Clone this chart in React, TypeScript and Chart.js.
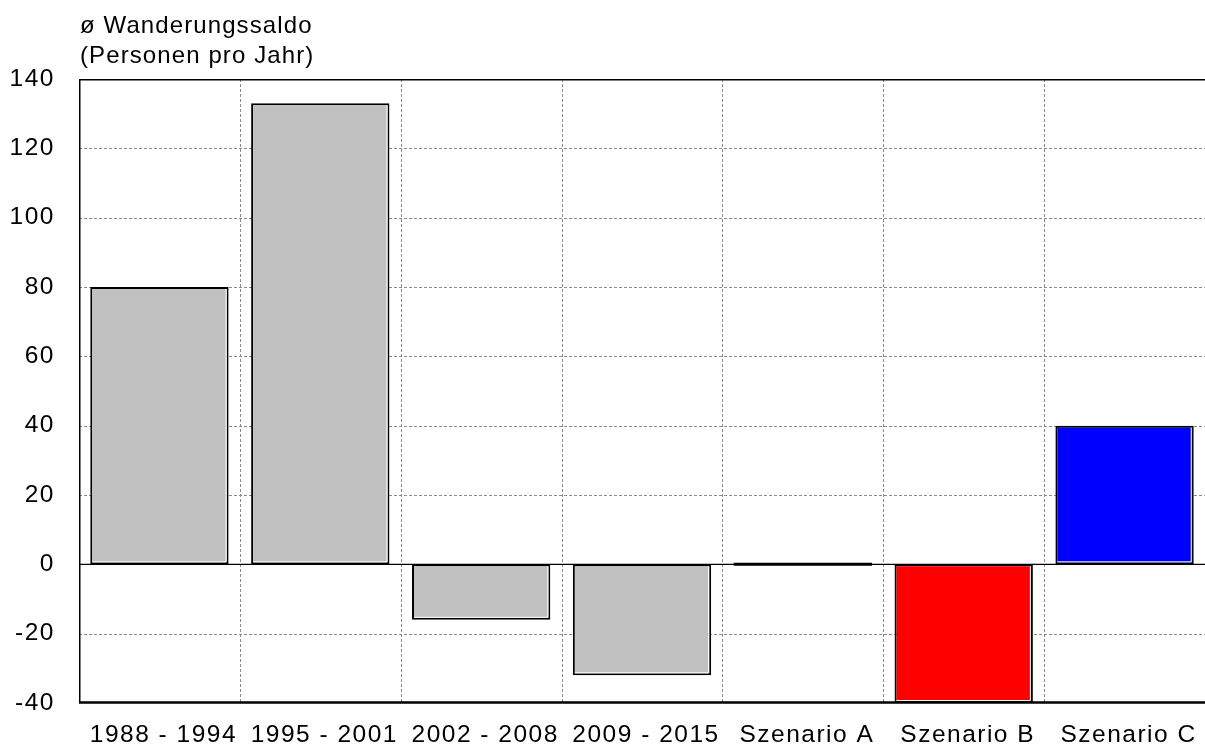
import React, { useEffect, useRef } from "react";
import { Chart, registerables } from "chart.js";

Chart.register(...registerables);

const categories = [
  "1988 - 1994",
  "1995 - 2001",
  "2002 - 2008",
  "2009 - 2015",
  "Szenario A",
  "Szenario B",
  "Szenario C",
];
const values = [80, 133, -16, -32, 0, -40, 40];
const barColors = ["#c0c0c0", "#c0c0c0", "#c0c0c0", "#c0c0c0", "#c0c0c0", "#ff0000", "#0000ff"];
const titleLines = ["ø Wanderungssaldo", "(Personen pro Jahr)"];
const yMin = -40;
const yMax = 140;
const yStep = 20;

const FONT_FAMILY = "'Liberation Sans', Arial, Helvetica, sans-serif";
const FONT_SIZE = 24.5;
const LETTER_SPACING = "1.5px";

const framePlugin = {
  id: "frame",
  beforeDraw(chart: any) {
    chart.ctx.letterSpacing = LETTER_SPACING;
  },
  beforeDatasetsDraw(chart: any) {
    const { ctx, chartArea, scales } = chart;
    const { left, right, top, bottom } = chartArea;
    const x = scales.x;
    const y = scales.y;
    ctx.save();
    ctx.strokeStyle = "#8a8a8a";
    ctx.lineWidth = 1;
    ctx.setLineDash([3, 2]);
    for (let v = yMin + yStep; v < yMax; v += yStep) {
      if (v === 0) continue;
      const py = Math.round(y.getPixelForValue(v)) + 0.5;
      ctx.beginPath();
      ctx.moveTo(left, py);
      ctx.lineTo(right, py);
      ctx.stroke();
    }
    for (let i = 0; i < categories.length - 1; i++) {
      const px = Math.round((x.getPixelForValue(i) + x.getPixelForValue(i + 1)) / 2) + 0.5;
      ctx.beginPath();
      ctx.moveTo(px, top);
      ctx.lineTo(px, bottom);
      ctx.stroke();
    }
    ctx.restore();
  },
  afterDatasetsDraw(chart: any) {
    const { ctx, chartArea, scales } = chart;
    const { left, right, top, bottom } = chartArea;
    const y = scales.y;
    ctx.save();
    ctx.setLineDash([]);
    const zy = y.getPixelForValue(0);
    // zero line
    ctx.strokeStyle = "#000000";
    ctx.lineWidth = 1.2;
    ctx.beginPath();
    ctx.moveTo(left, zy);
    ctx.lineTo(right, zy);
    ctx.stroke();
    // bar details
    const meta = chart.getDatasetMeta(0);
    const bw = 2;
    meta.data.forEach((el: any, i: number) => {
      const p = el.getProps(["x", "y", "base", "width"], true);
      const l = p.x - p.width / 2;
      const r = p.x + p.width / 2;
      const t = Math.min(p.y, p.base);
      const b = Math.max(p.y, p.base);
      if (values[i] === 0) {
        ctx.strokeStyle = "#000000";
        ctx.lineWidth = 3;
        ctx.beginPath();
        ctx.moveTo(l, zy);
        ctx.lineTo(r, zy);
        ctx.stroke();
        return;
      }
      if (b - t < 2 * bw + 2) return;
      ctx.strokeStyle = "#ffffff";
      ctx.lineWidth = 1;
      ctx.beginPath();
      ctx.moveTo(r - bw - 0.5, t + bw);
      ctx.lineTo(r - bw - 0.5, b - bw - 0.5);
      ctx.lineTo(l + bw, b - bw - 0.5);
      ctx.stroke();
    });
    // frame: top, left, bottom
    ctx.strokeStyle = "#000000";
    ctx.lineWidth = 1.5;
    ctx.beginPath();
    ctx.moveTo(right, top + 0.75);
    ctx.lineTo(left + 0.75, top + 0.75);
    ctx.lineTo(left + 0.75, bottom);
    ctx.stroke();
    ctx.lineWidth = 2.5;
    ctx.beginPath();
    ctx.moveTo(left, bottom - 0.5);
    ctx.lineTo(right, bottom - 0.5);
    ctx.stroke();
    // title
    ctx.letterSpacing = "1.1px";
    ctx.fillStyle = "#000000";
    ctx.font = `24px ${FONT_FAMILY}`;
    ctx.textAlign = "left";
    ctx.textBaseline = "middle";
    ctx.fillText(titleLines[0], 80, 26);
    ctx.fillText(titleLines[1], 80, 56);
    ctx.restore();
  },
};

export default function App() {
  const canvasRef = useRef<HTMLCanvasElement | null>(null);

  useEffect(() => {
    const canvas = canvasRef.current;
    if (!canvas) return;
    const chart = new Chart(canvas, {
      type: "bar",
      data: {
        labels: categories,
        datasets: [
          {
            data: values,
            backgroundColor: barColors,
            borderColor: "#000000",
            borderWidth: 2,
            borderSkipped: false,
            barPercentage: 0.86,
            categoryPercentage: 1,
          },
        ],
      },
      options: {
        animation: false,
        responsive: false,
        devicePixelRatio: 1,
        layout: { padding: { top: 79, right: 0, bottom: 0, left: 0 } },
        plugins: {
          legend: { display: false },
          tooltip: { enabled: false },
          title: { display: false },
        },
        scales: {
          x: {
            type: "category",
            offset: true,
            grid: { display: false, drawTicks: false },
            border: { display: false },
            ticks: {
              color: "#000000",
              font: { family: FONT_FAMILY, size: FONT_SIZE },
              padding: 18,
              labelOffset: 4,
              maxRotation: 0,
              minRotation: 0,
              autoSkip: false,
            },
            afterFit(scale: any) {
              scale.height = 44;
            },
          },
          y: {
            type: "linear",
            min: yMin,
            max: yMax,
            grid: { display: false, drawTicks: false },
            border: { display: false },
            ticks: {
              stepSize: yStep,
              color: "#000000",
              font: { family: FONT_FAMILY, size: FONT_SIZE },
              padding: 24,
            },
            afterFit(scale: any) {
              scale.width = 79;
            },
          },
        },
      },
      plugins: [framePlugin],
    });
    return () => chart.destroy();
  }, []);

  return (
    <div style={{ position: "fixed", left: 0, top: 0, width: 1205, height: 747, background: "#ffffff" }}>
      <canvas ref={canvasRef} width={1205} height={747} style={{ display: "block" }} />
    </div>
  );
}
